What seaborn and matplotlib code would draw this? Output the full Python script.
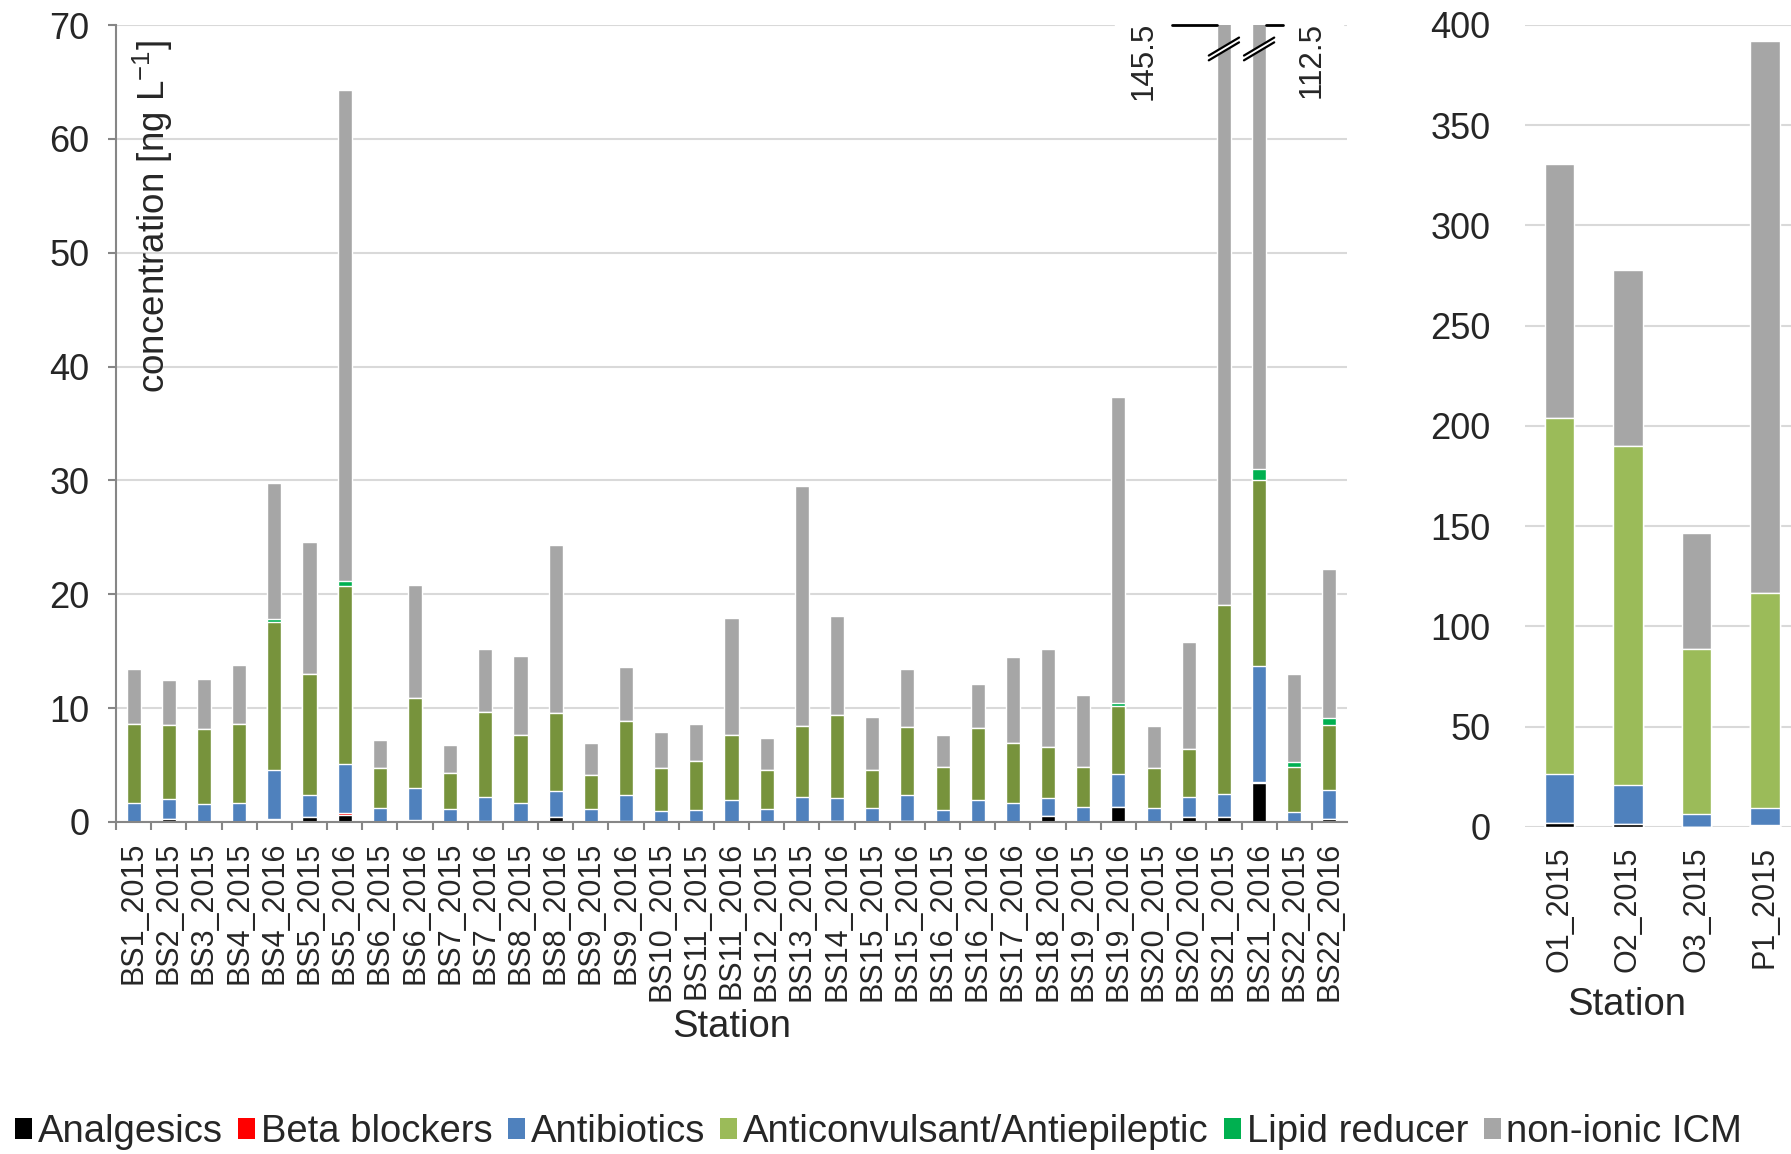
import seaborn as sns
import matplotlib.pyplot as plt
import numpy as np
from matplotlib.patches import Patch, Polygon, Rectangle

# ---------------- data: Baltic Sea stations (left panel) ----------------
stations_bs = ['BS1_2015', 'BS2_2015', 'BS3_2015', 'BS4_2015', 'BS4_2016', 'BS5_2015',
               'BS5_2016', 'BS6_2015', 'BS6_2016', 'BS7_2015', 'BS7_2016', 'BS8_2015',
               'BS8_2016', 'BS9_2015', 'BS9_2016', 'BS10_2015', 'BS11_2015', 'BS11_2016',
               'BS12_2015', 'BS13_2015', 'BS14_2016', 'BS15_2015', 'BS15_2016', 'BS16_2015',
               'BS16_2016', 'BS17_2016', 'BS18_2016', 'BS19_2015', 'BS19_2016', 'BS20_2015',
               'BS20_2016', 'BS21_2015', 'BS21_2016', 'BS22_2015', 'BS22_2016']
analgesics_bs = [0, 0.25, 0, 0, 0.15, 0.45, 0.65, 0, 0, 0, 0, 0,
                 0.45, 0, 0, 0, 0, 0, 0, 0, 0.1, 0, 0.1, 0,
                 0, 0, 0.53, 0, 1.32, 0, 0.41, 0.44, 3.43, 0, 0.26]
beta_bs = [0, 0, 0, 0, 0.1, 0, 0.1, 0, 0.2, 0, 0.1, 0,
           0, 0, 0.1, 0, 0, 0, 0, 0, 0, 0, 0, 0,
           0, 0, 0, 0, 0, 0, 0, 0, 0.1, 0, 0]
antibiotics_bs = [1.7, 1.8, 1.6, 1.67, 4.35, 1.95, 4.35, 1.26, 2.8, 1.17, 2.1, 1.7,
                  2.25, 1.17, 2.3, 1.0, 1.05, 1.96, 1.1, 2.2, 2.0, 1.23, 2.3, 1.05,
                  1.93, 1.67, 1.57, 1.32, 2.9, 1.23, 1.76, 2.06, 10.2, 0.88, 2.58]
anticonv_bs = [6.9, 6.45, 6.55, 6.95, 13.0, 10.6, 15.6, 3.5, 7.9, 3.13, 7.5, 5.95,
               6.9, 3.0, 6.5, 3.75, 4.35, 5.64, 3.5, 6.25, 7.27, 3.3, 5.95, 3.78,
               6.33, 5.27, 4.46, 3.51, 6.0, 3.52, 4.23, 16.57, 16.27, 3.95, 5.66]
lipid_bs = [0, 0, 0, 0, 0.2, 0, 0.5, 0, 0, 0, 0, 0,
            0, 0, 0, 0, 0, 0, 0, 0, 0, 0, 0, 0,
            0, 0, 0, 0, 0.21, 0, 0, 0, 1.0, 0.44, 0.64]
icm_bs = [4.8, 3.95, 4.45, 5.2, 12.0, 11.6, 43.1, 2.4, 9.9, 2.5, 5.5, 6.9,
          14.7, 2.75, 4.75, 3.15, 3.2, 10.3, 2.75, 21.05, 8.73, 4.7, 5.05, 2.77,
          3.84, 7.56, 8.6, 6.3, 26.87, 3.65, 9.45, 126.43, 81.5, 7.73, 13.06]

# ---------------- data: other stations (right panel) ----------------
stations_o = ['O1_2015', 'O2_2015', 'O3_2015', 'P1_2015']
analgesics_o = [2.2, 1.3, 0, 0.3]
beta_o = [0, 0.2, 0, 0.8]
antibiotics_o = [24.3, 19.4, 6.5, 8.4]
anticonv_o = [177.5, 169.1, 82.5, 107.0]
lipid_o = [0, 0, 0, 0]
icm_o = [126.7, 88.0, 57.5, 275.5]

classes = ['Analgesics', 'Beta blockers', 'Antibiotics', 'Anticonvulsant/Antiepileptic',
           'Lipid reducer', 'non-ionic ICM']
colors_left = ['#000000', '#FF0000', '#4F81BD', '#77933C', '#00B050', '#A6A6A6']
colors_right = ['#000000', '#FF0000', '#4F81BD', '#9BBB59', '#00B050', '#A6A6A6']

sns.set_theme(style='white')
plt.rcParams['font.family'] = ['Liberation Sans', 'DejaVu Sans']
plt.rcParams['mathtext.fontset'] = 'custom'
plt.rcParams['mathtext.rm'] = 'Liberation Sans'
plt.rcParams['mathtext.default'] = 'regular'

GRID = '#D9D9D9'
AXC = '#868686'

fig = plt.figure(figsize=(17.91, 11.54), dpi=100)
ax1 = fig.add_axes([0.0648, 0.2877, 0.6873, 0.6906])
ax2 = fig.add_axes([0.8515, 0.2834, 0.153, 0.695])


def stacked(ax, stations, layers, colors, width):
    cum = np.cumsum(np.array(layers, dtype=float), axis=0)
    for vals, col in reversed(list(zip(cum, colors))):
        sns.barplot(x=stations, y=vals, color=col, width=width, saturation=1,
                    errorbar=None, ax=ax, zorder=2)


stacked(ax1, stations_bs, [analgesics_bs, beta_bs, antibiotics_bs, anticonv_bs, lipid_bs, icm_bs],
        colors_left, 0.4)
stacked(ax2, stations_o, [analgesics_o, beta_o, antibiotics_o, anticonv_o, lipid_o, icm_o],
        colors_right, 0.43)

# ---- left panel styling ----
ax1.set_ylim(0, 70)
ax1.set_xlim(-0.5, len(stations_bs) - 0.5)
ax1.set_yticks(range(0, 71, 10))
ax1.yaxis.grid(True, color=GRID, lw=1.5)
ax1.set_axisbelow(True)
for s in ['top', 'right']:
    ax1.spines[s].set_visible(False)
for s in ['left', 'bottom']:
    ax1.spines[s].set_color(AXC)
    ax1.spines[s].set_linewidth(1.5)
ax1.tick_params(axis='y', direction='out', length=6, width=1.5, color=AXC, pad=13, labelsize=26,
                left=True)
ax1.set_xticks(np.arange(len(stations_bs)) - 0.5, minor=True)
ax1.tick_params(axis='x', which='minor', direction='out', length=6, width=1.5, color=AXC, bottom=True)
ax1.tick_params(axis='x', which='major', length=0, pad=14, labelsize=22)
ax1.set_xticks(range(len(stations_bs)))
ax1.set_xticklabels(stations_bs, rotation=90, va='top')
ax1.set_xlabel('Station', fontsize=27.5)
ax1.xaxis.set_label_coords(0.5, -0.257)
ax1.xaxis.label.set_va('center')
ax1.set_ylabel('')
ax1.text(0.03, 0.981, 'concentration [ng L$^{-1}$]', transform=ax1.transAxes, rotation=90,
         ha='center', va='top', fontsize=26.5)

# broken bars BS21
ax1.add_patch(Rectangle((27.9, 69.6), 6.5, 0.8, color='white', zorder=1, clip_on=False))
for xc in [31, 32]:
    y0, rise, gap, hw = 66.9, 1.58, 0.42, 0.43
    ax1.add_patch(Polygon([(xc - hw, y0), (xc + hw, y0 + rise), (xc + hw, y0 + rise + gap),
                           (xc - hw, y0 + gap)], closed=True, color='white', zorder=3))
    for off in [0, gap]:
        ax1.plot([xc - hw, xc + hw], [y0 + off, y0 + rise + off], color='black', lw=1.6, zorder=4)
ax1.plot([29.53, 30.8], [70, 70], color='black', lw=2, clip_on=False, zorder=4)
ax1.plot([32.2, 32.68], [70, 70], color='black', lw=2, clip_on=False, zorder=4)
ax1.text(28.73, 70.3, '145.5', rotation=90, ha='center', va='top', fontsize=22.5)
ax1.text(33.5, 70.3, '112.5', rotation=90, ha='center', va='top', fontsize=22.5)

# ---- right panel styling ----
ax2.set_ylim(0, 400)
ax2.set_xlim(-0.5, len(stations_o) - 0.5)
ax2.set_yticks(range(0, 401, 50))
ax2.yaxis.grid(True, color=GRID, lw=1.5)
ax2.set_axisbelow(True)
for s in ax2.spines.values():
    s.set_visible(False)
ax2.tick_params(axis='y', length=0, pad=25, labelsize=26)
ax2.tick_params(axis='x', length=0, pad=14, labelsize=22)
ax2.set_xticklabels(stations_o, rotation=90, va='top')
ax2.set_xlabel('Station', fontsize=27.5)
ax2.xaxis.set_label_coords(0.372, -0.222)
ax2.xaxis.label.set_va('center')
ax2.set_ylabel('')

# ---- legend ----
handles = [Patch(facecolor=c, edgecolor='none') for c in colors_right]
fig.legend(handles, classes, loc='center', bbox_to_anchor=(0.4905, 0.019), ncol=6, frameon=False,
           fontsize=27.5, handlelength=0.45, handleheight=0.45, handletextpad=0.15, columnspacing=0.4)

fig.savefig('out.png', dpi=100)
